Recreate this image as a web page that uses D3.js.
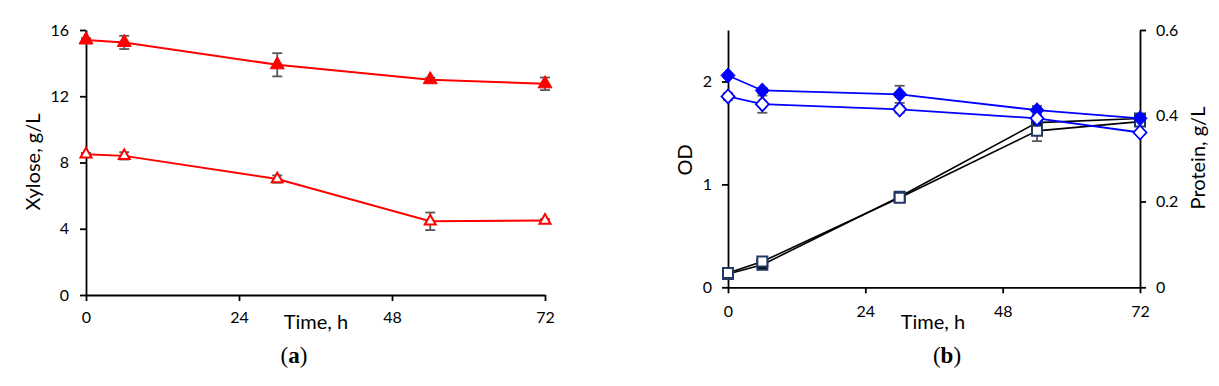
<!DOCTYPE html>
<html>
<head>
<meta charset="utf-8">
<script src="https://cdn.jsdelivr.net/npm/d3@7"></script>
<style>
  body { margin: 0; background: #fff; }
  svg text { font-family: Lato, "Open Sans", sans-serif; }
</style>
</head>
<body>
<div id="chart"></div>
<script>
// sampling times, h
const times = [0, 6, 30, 54, 72];
const timeTicks = [0, 24, 48, 72];

// panel (a) xylose, g/L
const xyloseFilled = [15.4, 15.25, 13.9, 13.0, 12.75];
const xyloseFilledErr = [0.1, 0.4, 0.7, 0.12, 0.38];
const xyloseOpen = [8.5, 8.4, 7.0, 4.45, 4.5];
const xyloseOpenErr = [0.08, 0.22, 0.22, 0.53, 0.08];
const xyloseTicks = [0, 4, 8, 12, 16];

// panel (b) OD (squares, left axis) and protein g/L (diamonds, right axis)
const odFilled = [0.13, 0.22, 0.88, 1.6, 1.64];
const odFilledErr = [0.01, 0.02, 0.02, 0.04, 0.03];
const odOpen = [0.14, 0.25, 0.87, 1.52, 1.61];
const odOpenErr = [0.01, 0.02, 0.02, 0.1, 0.03];
const odTicks = [0, 1, 2];
const proteinFilled = [0.494, 0.459, 0.450, 0.413, 0.394];
const proteinFilledErr = [0.005, 0.006, 0.02, 0.01, 0.005];
const proteinOpen = [0.445, 0.427, 0.415, 0.394, 0.361];
const proteinOpenErr = [0.008, 0.02, 0.008, 0.005, 0.004];
const proteinTicks = [0, 0.2, 0.4, 0.6];

const W = 1219, H = 386;
const svg = d3.select("#chart").append("svg")
  .attr("width", W).attr("height", H);

const errColor = "#595959";

// custom marker paths
const diamond = (hw, hh) => `M0,${-hh}L${hw},0L0,${hh}L${-hw},0Z`;
const square = (s) => `M${-s/2},${-s/2}h${s}v${s}h${-s}Z`;
const triangle = (s) => {
  const h = s * Math.sqrt(3) / 2;
  return `M0,${-h*2/3}L${s/2},${h/3}L${-s/2},${h/3}Z`;
};

function styleAxis(g) {
  g.selectAll("path, line").attr("stroke", "#000").attr("stroke-width", 1.8);
  g.selectAll("text").attr("font-size", 16).attr("fill", "#000");
}

function series(g, x, y, vals, errs, opt) {
  const pts = times.map((t, i) => ({ t, v: vals[i], e: errs[i] }));
  const line = d3.line().x(d => x(d.t)).y(d => y(d.v));
  g.append("path").datum(pts)
    .attr("d", line)
    .attr("fill", "none")
    .attr("stroke", opt.line)
    .attr("stroke-width", opt.lw || 1.8);

  const eb = g.append("g").attr("stroke", errColor).attr("stroke-width", 1.8);
  pts.forEach(d => {
    const cx = x(d.t), y1 = y(d.v - d.e), y2 = y(d.v + d.e);
    eb.append("line").attr("x1", cx).attr("x2", cx).attr("y1", y1).attr("y2", y2);
    eb.append("line").attr("x1", cx - 5).attr("x2", cx + 5).attr("y1", y1).attr("y2", y1);
    eb.append("line").attr("x1", cx - 5).attr("x2", cx + 5).attr("y1", y2).attr("y2", y2);
  });
  return pts;
}

function markers(g, x, y, pts, opt) {
  g.selectAll(null).data(pts).enter().append("path")
    .attr("d", opt.shape)
    .attr("transform", d => `translate(${x(d.t)},${y(d.v)})`)
    .attr("fill", opt.fill)
    .attr("stroke", opt.stroke)
    .attr("stroke-width", opt.sw || 2);
}

// ---------- panel (a) ----------
const xa = d3.scaleLinear().domain([0, 72]).range([86, 545]);
const ya = d3.scaleLinear().domain([0, 16]).range([295, 30]);
const ga = svg.append("g");

ga.append("g").attr("transform", `translate(0,${ya(0)})`)
  .call(d3.axisBottom(xa).tickValues(timeTicks).tickSize(6).tickSizeOuter(0).tickPadding(11))
  .call(styleAxis);
ga.append("g").attr("transform", `translate(${xa(0)},0)`)
  .call(d3.axisLeft(ya).tickValues(xyloseTicks).tickSize(6).tickSizeOuter(0).tickPadding(11))
  .call(styleAxis);

const pa1 = series(ga, xa, ya, xyloseFilled, xyloseFilledErr, { line: "#ff0000", lw: 2 });
const pa2 = series(ga, xa, ya, xyloseOpen, xyloseOpenErr, { line: "#ff0000", lw: 2 });
markers(ga, xa, ya, pa1, { shape: triangle(14), fill: "#ff0000", stroke: "#ff0000", sw: 1 });
markers(ga, xa, ya, pa2, { shape: triangle(11), fill: "#fff", stroke: "#ff0000", sw: 2 });

ga.append("text").attr("x", 316).attr("y", 329).attr("text-anchor", "middle")
  .attr("font-size", 20).text("Time, h");
ga.append("text").attr("transform", "translate(40,162) rotate(-90)")
  .attr("text-anchor", "middle").attr("font-size", 20).text("Xylose, g/L");

// ---------- panel (b) ----------
const xb = d3.scaleLinear().domain([0, 72]).range([728, 1140]);
const yb = d3.scaleLinear().domain([0, 2.5]).range([287.3, 30]);
const yb2 = d3.scaleLinear().domain([0, 0.6]).range([287.3, 30]);
const gb = svg.append("g");

gb.append("g").attr("transform", `translate(0,${yb(0)})`)
  .call(d3.axisBottom(xb).tickValues(timeTicks).tickSize(6).tickSizeOuter(0).tickPadding(12))
  .call(styleAxis);
gb.append("g").attr("transform", `translate(${xb(0)},0)`)
  .call(d3.axisLeft(yb).tickValues(odTicks).tickSize(6).tickSizeOuter(0).tickPadding(10)
    .tickFormat(d3.format("d")))
  .call(styleAxis);
gb.append("g").attr("transform", `translate(${xb(72)},0)`)
  .call(d3.axisRight(yb2).tickValues(proteinTicks).tickSize(6).tickSizeOuter(0).tickPadding(10)
    .tickFormat(d => d === 0 ? "0" : d3.format(".1f")(d)))
  .call(styleAxis);

const pb1 = series(gb, xb, yb, odFilled, odFilledErr, { line: "#000", lw: 1.6 });
const pb2 = series(gb, xb, yb, odOpen, odOpenErr, { line: "#000", lw: 1.6 });
const pb3 = series(gb, xb, yb2, proteinFilled, proteinFilledErr, { line: "#0000ff", lw: 1.8 });
const pb4 = series(gb, xb, yb2, proteinOpen, proteinOpenErr, { line: "#0000ff", lw: 1.8 });
markers(gb, xb, yb, pb1, { shape: square(10), fill: "#000", stroke: "#1f3864", sw: 2 });
markers(gb, xb, yb, pb2, { shape: square(10), fill: "#fff", stroke: "#1f3864", sw: 2 });
markers(gb, xb, yb2, pb3, { shape: diamond(7, 7.5), fill: "#0000ff", stroke: "#0000ff", sw: 1 });
markers(gb, xb, yb2, pb4, { shape: diamond(6.5, 7), fill: "#fff", stroke: "#0000ff", sw: 1.8 });

gb.append("text").attr("x", 933).attr("y", 329).attr("text-anchor", "middle")
  .attr("font-size", 20).text("Time, h");
gb.append("text").attr("transform", "translate(692,160) rotate(-90)")
  .attr("text-anchor", "middle").attr("font-size", 20).text("OD");
gb.append("text").attr("transform", "translate(1205,158) rotate(-90)")
  .attr("text-anchor", "middle").attr("font-size", 20).text("Protein, g/L");

// panel captions
function caption(cx, letter) {
  const t = svg.append("text").attr("x", cx).attr("y", 363).attr("text-anchor", "middle")
    .attr("font-size", 23).style("font-family", "'Liberation Serif', 'DejaVu Serif', serif");
  t.append("tspan").text("(");
  t.append("tspan").attr("font-weight", "bold").text(letter);
  t.append("tspan").text(")");
}
caption(294, "a");
caption(947, "b");
</script>
</body>
</html>
